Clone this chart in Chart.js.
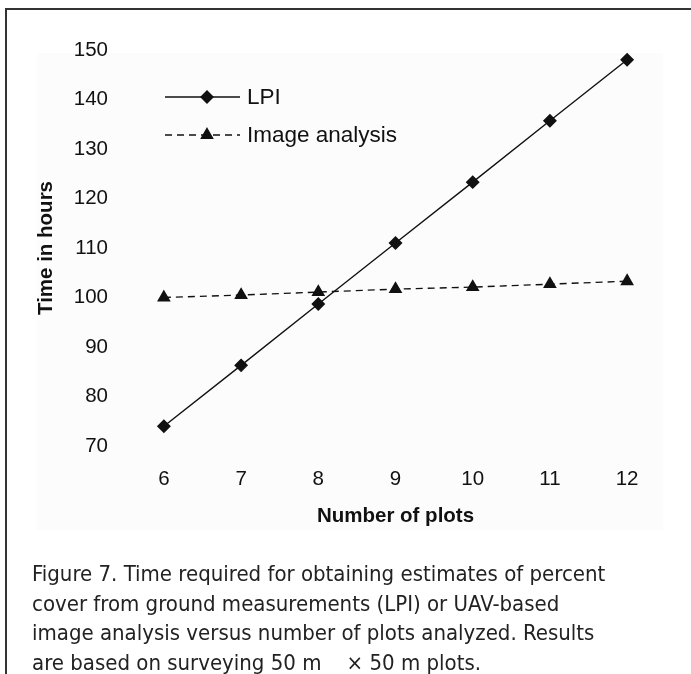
<!DOCTYPE html>
<html>
<head>
<meta charset="utf-8">
<script src="https://cdn.jsdelivr.net/npm/chart.js@4.4.1/dist/chart.umd.min.js"></script>
<style>
  body { margin: 0; background: #fff; width: 691px; height: 674px; overflow: hidden; position: relative; }
  #frameTop { position: absolute; left: 5px; top: 8px; width: 686px; height: 2px; background: #333; }
  #frameLeft { position: absolute; left: 5px; top: 8px; width: 2px; height: 666px; background: #333; }
  #panel { position: absolute; left: 37px; top: 53px; width: 626px; height: 477px; background: #fcfcfc; }
  #wrap { position: absolute; left: 0; top: 0; width: 691px; height: 560px; }
  #caption { position: absolute; left: 32px; top: 559px; font-family: "DejaVu Sans Condensed", "Liberation Sans Narrow", sans-serif;
             font-size: 22px; line-height: 29.5px; color: #222; white-space: nowrap; }
</style>
</head>
<body>
<div id="frameTop"></div>
<div id="frameLeft"></div>
<div id="panel"></div>
<div id="wrap"><canvas id="chart" width="691" height="560"></canvas></div>
<div id="caption">Figure 7. Time required for obtaining estimates of percent<br>cover from ground measurements (LPI) or UAV-based<br>image analysis versus number of plots analyzed. Results<br>are based on surveying 50 m&nbsp;&nbsp;&nbsp;&nbsp;&times; 50 m plots.</div>
<script>
const plots = [6, 7, 8, 9, 10, 11, 12];
const lpiHours = [74, 86.3, 98.7, 111, 123.3, 135.7, 148];
const imageHours = [100, 100.5, 101.1, 101.7, 102.1, 102.7, 103.3];
const xTicks = [6, 7, 8, 9, 10, 11, 12];
const yTicks = [70, 80, 90, 100, 110, 120, 130, 140, 150];

const FONT = '"Liberation Sans", Arial, sans-serif';
const ink = '#111';

// legend drawn inside the plot, line + marker like the original
const insideLegend = {
  id: 'insideLegend',
  afterDraw(chart) {
    const ctx = chart.ctx;
    ctx.save();
    chart.data.datasets.forEach((ds, i) => {
      const y = 97 + i * 38;
      ctx.strokeStyle = ds.borderColor;
      ctx.fillStyle = ds.pointBackgroundColor;
      ctx.lineWidth = ds.borderWidth;
      ctx.setLineDash(ds.borderDash || []);
      ctx.beginPath();
      ctx.moveTo(165, y);
      ctx.lineTo(240, y);
      ctx.stroke();
      ctx.setLineDash([]);
      Chart.helpers.drawPoint(ctx, { pointStyle: ds.pointStyle, radius: ds.pointRadius, rotation: 0, borderWidth: 1 }, 207, y);
      ctx.fillStyle = ink;
      ctx.font = '22.5px ' + FONT;
      ctx.textBaseline = 'middle';
      ctx.textAlign = 'left';
      ctx.fillText(ds.label, 247, y + 1);
    });
    ctx.restore();
  }
};

new Chart(document.getElementById('chart'), {
  type: 'line',
  data: {
    datasets: [
      {
        label: 'LPI',
        data: plots.map((x, i) => ({ x: x, y: lpiHours[i] })),
        borderColor: '#111', borderWidth: 1.4,
        pointStyle: 'rectRot', pointRadius: 6,
        pointBackgroundColor: '#111', pointBorderColor: '#111'
      },
      {
        label: 'Image analysis',
        data: plots.map((x, i) => ({ x: x, y: imageHours[i] })),
        borderColor: '#111', borderWidth: 1.4, borderDash: [7, 5],
        pointStyle: 'triangle', pointRadius: 6.5,
        pointBackgroundColor: '#111', pointBorderColor: '#111'
      }
    ]
  },
  options: {
    responsive: false,
    animation: false,
    clip: false,
    layout: { padding: { top: 40, right: 33, left: 0, bottom: 0 } },
    plugins: { legend: { display: false }, tooltip: { enabled: false } },
    scales: {
      x: {
        type: 'linear', min: 5.6, max: 12.4,
        grid: { display: false, drawTicks: false },
        border: { display: false },
        afterBuildTicks: s => { s.ticks = xTicks.map(v => ({ value: v })); },
        afterFit: s => { s.height = 104; },
        ticks: { color: ink, font: { family: FONT, size: 20.5 }, padding: 11 },
        title: { display: true, text: 'Number of plots', color: ink,
                 font: { family: FONT, size: 20.5, weight: 'bold' }, padding: { top: 0, bottom: 31 } }
      },
      y: {
        min: 68, max: 152,
        grid: { display: false, drawTicks: false },
        border: { display: false },
        afterBuildTicks: s => { s.ticks = yTicks.map(v => ({ value: v })); },
        afterFit: s => { s.width = 133; },
        ticks: { color: ink, font: { family: FONT, size: 20.5 }, padding: 25 },
        title: { display: true, text: 'Time in hours', color: ink,
                 font: { family: FONT, size: 20.5, weight: 'bold' }, padding: { top: 34, bottom: 0 } }
      }
    }
  },
  plugins: [insideLegend]
});
</script>
</body>
</html>
